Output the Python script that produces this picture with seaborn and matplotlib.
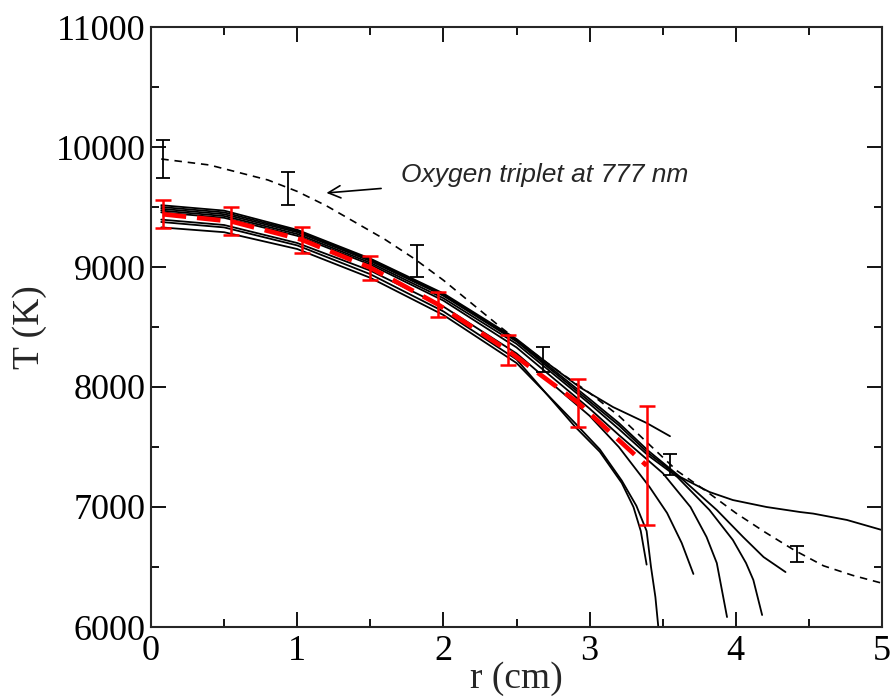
import matplotlib
matplotlib.use("Agg")
import numpy as np
import pandas as pd
import seaborn as sns
import matplotlib.pyplot as plt
from matplotlib.ticker import MultipleLocator

# ---------------- data ----------------
# Oxygen triplet profile (black dashed)
oxy_x = [0.07, 0.4, 0.8, 1.0, 1.2, 1.4, 1.6, 1.8, 2.0, 2.2, 2.4, 2.6, 2.8,
         3.0, 3.2, 3.4, 3.6, 3.8, 4.0, 4.2, 4.4, 4.6, 4.8, 5.0]
oxy_y = [9900, 9850, 9725, 9630, 9510, 9370, 9230, 9070, 8890, 8690, 8490,
         8300, 8120, 7950, 7760, 7530, 7300, 7130, 6950, 6790, 6640, 6510,
         6430, 6365]

# Oxygen triplet measurements (black error bars)
oxy_pts_x = [0.08, 0.94, 1.82, 2.68, 3.55, 4.42]
oxy_pts_y = [9900, 9655, 9050, 8230, 7355, 6608]
oxy_pts_err = [158, 137, 130, 104, 88, 67]

# Average profile (red dashed with error bars)
avg_x = [0.08, 0.55, 1.03, 1.50, 1.96, 2.44, 2.92, 3.39]
avg_y = [9440, 9380, 9228, 8995, 8690, 8305, 7870, 7345]
avg_err = [117, 117, 108, 100, 104, 125, 200, 495]

# Individual line profiles (black solid)
prof_H_x = [0.07, 0.5, 1.0, 1.5, 2.0, 2.5, 2.71, 2.93, 3.16, 3.39, 3.55]
prof_H_y = [9515, 9470, 9310, 9070, 8780, 8400, 8200, 8000, 7833, 7700, 7590]

prof_G_x = [0.07, 0.5, 1.0, 1.5, 2.0, 2.5, 3.0, 3.2, 3.4, 3.62, 3.82, 3.98,
            4.21, 4.44, 4.53, 4.76, 5.0]
prof_G_y = [9500, 9455, 9300, 9060, 8770, 8390, 7900, 7700, 7470, 7250, 7125,
            7058, 7000, 6958, 6945, 6892, 6808]

prof_F_x = [0.07, 0.5, 1.0, 1.5, 2.0, 2.5, 3.0, 3.2, 3.4, 3.64, 3.87, 4.05,
            4.19, 4.34]
prof_F_y = [9485, 9440, 9290, 9050, 8760, 8380, 7880, 7680, 7450, 7225, 6975,
            6750, 6583, 6458]

prof_E_x = [0.07, 0.5, 1.0, 1.5, 2.0, 2.5, 3.0, 3.2, 3.4, 3.60, 3.82, 3.98,
            4.07, 4.12, 4.18]
prof_E_y = [9470, 9425, 9275, 9035, 8740, 8360, 7860, 7650, 7430, 7250, 6975,
            6725, 6533, 6392, 6100]

prof_D_x = [0.07, 0.5, 1.0, 1.5, 2.0, 2.5, 3.0, 3.2, 3.50, 3.69, 3.80, 3.87,
            3.94]
prof_D_y = [9455, 9410, 9260, 9020, 8720, 8330, 7820, 7600, 7283, 7000, 6750,
            6533, 6083]

prof_C_x = [0.07, 0.5, 1.0, 1.5, 2.0, 2.5, 3.0, 3.2, 3.41, 3.53, 3.63, 3.71]
prof_C_y = [9395, 9350, 9200, 8970, 8670, 8280, 7760, 7500, 7167, 6950, 6700,
            6442]

prof_B_x = [0.07, 0.5, 1.0, 1.5, 2.0, 2.5, 2.9, 3.07, 3.22, 3.30, 3.35, 3.39]
prof_B_y = [9375, 9330, 9180, 8940, 8630, 8230, 7670, 7460, 7200, 7000, 6800,
            6520]

prof_A_x = [0.07, 0.5, 1.0, 1.5, 2.0, 2.5, 2.9, 3.07, 3.22, 3.32, 3.39, 3.42,
            3.45, 3.47]
prof_A_y = [9330, 9290, 9150, 8910, 8600, 8200, 7700, 7480, 7220, 7010, 6800,
            6500, 6250, 6000]

x_ticks = [0, 1, 2, 3, 4, 5]
y_ticks = [6000, 7000, 8000, 9000, 10000, 11000]

profiles = {
    "A": (prof_A_x, prof_A_y), "B": (prof_B_x, prof_B_y),
    "C": (prof_C_x, prof_C_y), "D": (prof_D_x, prof_D_y),
    "E": (prof_E_x, prof_E_y), "F": (prof_F_x, prof_F_y),
    "G": (prof_G_x, prof_G_y), "H": (prof_H_x, prof_H_y),
}
df = pd.concat(
    [pd.DataFrame({"r": xs, "T": ys, "profile": k}) for k, (xs, ys) in profiles.items()],
    ignore_index=True,
)

# ---------------- styling ----------------
sns.set_style("ticks")
plt.rcParams["font.family"] = ["Liberation Serif", "DejaVu Serif"]
plt.rcParams["axes.linewidth"] = 1.5

fig = plt.figure(figsize=(8.93, 6.97), dpi=100)
ax = fig.add_axes([151 / 893, 1 - 627 / 697, 731 / 893, 600 / 697])

sns.lineplot(data=df, x="r", y="T", units="profile", estimator=None,
             sort=False, color="black", lw=1.3, ax=ax, legend=False)

sns.lineplot(x=oxy_x, y=oxy_y, sort=False, color="black", lw=1.2,
             dashes=False, ax=ax)
ax.lines[-1].set_dashes((4.5, 3.5))

ax.errorbar(oxy_pts_x, oxy_pts_y, yerr=oxy_pts_err, fmt="none",
            ecolor="black", elinewidth=1.3, capsize=5, capthick=1.3, zorder=4)

sns.lineplot(x=avg_x, y=avg_y, sort=False, color="red", lw=3.4, ax=ax)
ax.lines[-1].set_dashes((5, 2.3))
ax.errorbar(avg_x, avg_y, yerr=avg_err, fmt="none", ecolor="red",
            elinewidth=1.8, capsize=6, capthick=1.8, zorder=5)

ax.annotate("Oxygen triplet at 777 nm", xy=(1.20, 9617), xytext=(1.71, 9767),
            fontsize=19, style="italic", family=["Liberation Sans", "DejaVu Sans"],
            va="center", ha="left",
            arrowprops=dict(arrowstyle="->", color="black", lw=1.2,
                            shrinkA=12, shrinkB=0, mutation_scale=22))

ax.set_xlim(0, 5)
ax.set_ylim(6000, 11000)
ax.set_xticks(x_ticks)
ax.set_yticks(y_ticks)
ax.set_xticklabels([str(v) for v in x_ticks])
ax.set_yticklabels([str(v) for v in y_ticks])
ax.xaxis.set_minor_locator(MultipleLocator(0.5))
ax.yaxis.set_minor_locator(MultipleLocator(500))
ax.tick_params(which="both", direction="in", top=True, right=True,
               width=1.3, colors="black", labelsize=26)
ax.tick_params(which="major", length=10.5)
ax.tick_params(which="minor", length=5.5)
ax.tick_params(axis="x", pad=6)
ax.tick_params(axis="y", pad=4)
for s in ax.spines.values():
    s.set_visible(True)
    s.set_linewidth(1.5)

ax.set_xlabel("r (cm)", fontsize=27, labelpad=-5)
ax.set_ylabel("T (K)", fontsize=27, labelpad=6)

fig.savefig("out.png", dpi=100)
